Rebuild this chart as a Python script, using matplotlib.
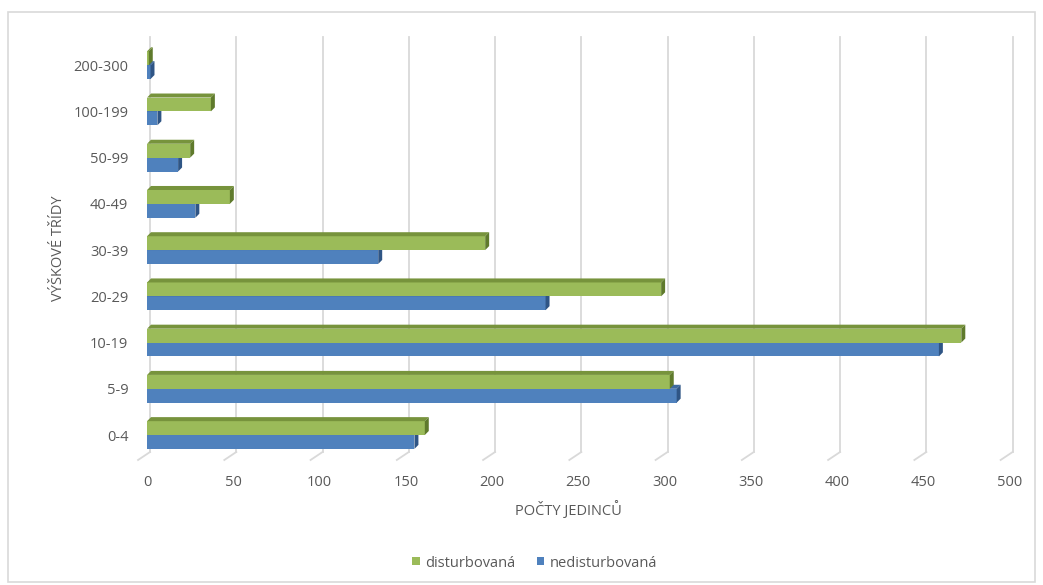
import matplotlib
matplotlib.use("Agg")
import matplotlib.pyplot as plt
from matplotlib.patches import Polygon, Rectangle
from matplotlib.lines import Line2D
from matplotlib.transforms import ScaledTranslation
import numpy as np

categories = ["0-4", "5-9", "10-19", "20-29", "30-39", "40-49", "50-99", "100-199", "200-300"]
disturbovana = [161, 303, 472, 298, 196, 48, 25, 37, 1]
nedisturbovana = [155, 307, 459, 231, 134, 28, 18, 6, 2]
series_names = ["disturbovaná", "nedisturbovaná"]
xticks = [0, 50, 100, 150, 200, 250, 300, 350, 400, 450, 500]

plt.rcParams['font.family'] = ['Open Sans', 'DejaVu Sans']
txt = "#595959"
fs = 10.5

fig = plt.figure(figsize=(10.43, 5.85), dpi=100)
ax = fig.add_axes([0.141, 0.2137, 0.827, 0.7231])

y = np.arange(len(categories))
h = 0.30
# 3D depth in data units (approx 4 px)
ddx = 2.3
ddy = 0.087

def draw_bars(vals, offset, front, top, side, z):
    for yi, v in zip(y, vals):
        b = yi + offset
        t = b + h
        ax.add_patch(Rectangle((0, b), v, h, facecolor=front, edgecolor='none', zorder=z))
        ax.add_patch(Polygon([(0, t), (v, t), (v + ddx, t + ddy), (ddx, t + ddy)],
                             closed=True, facecolor=top, edgecolor='none', zorder=z))
        ax.add_patch(Polygon([(v, b), (v, t), (v + ddx, t + ddy), (v + ddx, b + ddy)],
                             closed=True, facecolor=side, edgecolor='none', zorder=z))

draw_bars(nedisturbovana, -h, "#4F81BD", "#3E6AA0", "#2F5585", 3)
draw_bars(disturbovana, 0.0, "#9BBB59", "#77933C", "#5F7A2C", 4)

ax.set_xlim(0, 500)
ax.set_ylim(-0.54, 8.61)

# 3D-style gridlines: back wall vertical + floor diagonal
px = 500 / 863.0
back_off = 3 * px
front_off = -9 * px
floor_y = 8 / 423.0
btrans = ax.get_xaxis_transform()
for v in xticks:
    ax.add_line(Line2D([v + back_off, v + back_off], [floor_y, 1.0], transform=btrans,
                       color="#D9D9D9", linewidth=1.3, zorder=0, clip_on=False))
    ax.add_line(Line2D([v + back_off, v + front_off], [floor_y, 0.0], transform=btrans,
                       color="#D9D9D9", linewidth=1.3, zorder=0, clip_on=False))

ax.set_xticks(xticks)
ax.set_xticklabels([str(v) for v in xticks], color=txt, fontsize=fs)
shift = ScaledTranslation(-9 / 100.0, 0, fig.dpi_scale_trans)
for lab in ax.get_xticklabels():
    lab.set_transform(lab.get_transform() + shift)
ax.set_yticks(y)
ax.set_yticklabels(categories, color=txt, fontsize=fs)
ax.tick_params(length=0)
ax.tick_params(axis='x', pad=11)
ax.tick_params(axis='y', pad=13.5)
for s in ax.spines.values():
    s.set_visible(False)

ax.set_xlabel("POČTY JEDINCŮ", color=txt, fontsize=fs)
ax.set_ylabel("VÝŠKOVÉ TŘÍDY", color=txt, fontsize=fs)
ax.xaxis.set_label_coords(0.488, -0.097)
ax.yaxis.set_label_coords(-0.094, 0.5)

handles = [Rectangle((0, 0), 1, 1, facecolor="#9BBB59"), Rectangle((0, 0), 1, 1, facecolor="#4F81BD")]
fig.legend(handles, series_names, loc='center', bbox_to_anchor=(0.513, 0.0376), ncol=2,
           frameon=False, fontsize=fs, labelcolor=txt, handlelength=0.5, handleheight=0.5,
           handletextpad=0.4, columnspacing=1.45)

fig.add_artist(Rectangle((0.008, 0.005), 0.984, 0.975, transform=fig.transFigure,
                         fill=False, edgecolor="#D9D9D9", linewidth=1.2))

fig.savefig("out.png", dpi=100)
